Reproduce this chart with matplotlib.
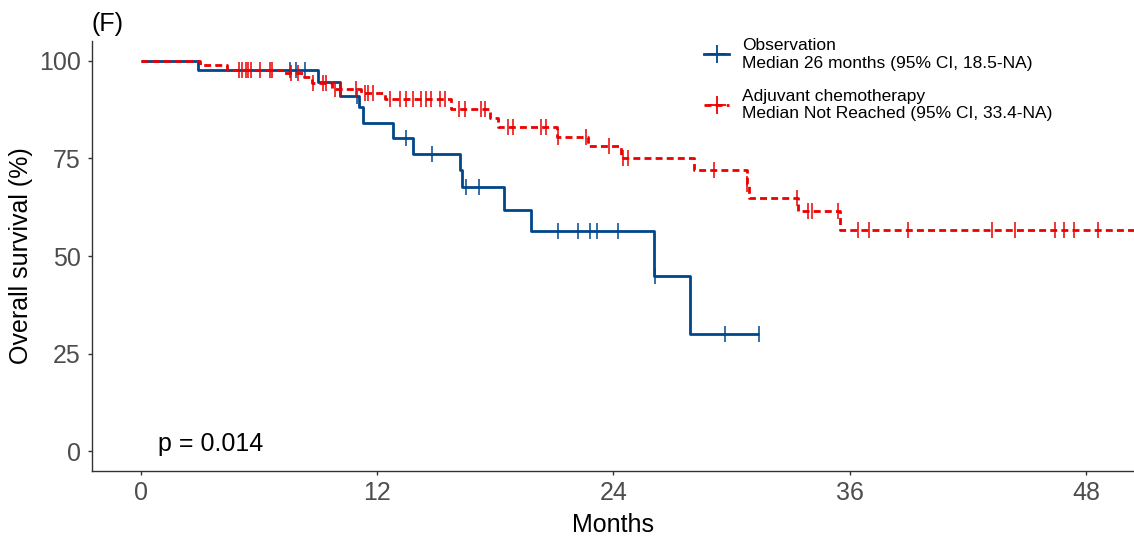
import numpy as np
import matplotlib
matplotlib.use('Agg')
import matplotlib.pyplot as plt
from matplotlib.lines import Line2D

plt.rcParams['font.family'] = ['Liberation Sans', 'DejaVu Sans']

# Kaplan-Meier steps (months, survival %)
obs_time = [0, 2.9, 9.0, 10.1, 11.1, 11.3, 12.8, 13.85, 16.2, 16.3, 18.46, 19.83, 26.05, 27.88, 31.37]
obs_surv = [100, 97.7, 94.5, 91.1, 88.3, 84.1, 80.2, 76.1, 72.1, 67.6, 61.9, 56.4, 45.0, 29.9, 29.9]
obs_cens = [7.57, 7.87, 8.33, 11.0, 13.46, 14.77, 16.5, 17.2, 21.2, 22.2, 22.84, 23.17, 24.24,
            26.1, 29.69, 31.37]

adj_time = [0, 3.0, 4.4, 7.2, 8.3, 8.7, 9.7, 11.2, 12.4, 15.78, 17.72, 18.15, 21.15, 22.7,
            24.4, 28.1, 30.8, 30.9, 33.37, 35.5, 50.6]
adj_surv = [100, 99.0, 97.7, 96.8, 95.9, 94.3, 92.8, 91.7, 90.2, 87.8, 85.3, 83.0, 80.6, 78.1,
            75.1, 72.1, 68.5, 64.9, 61.6, 56.8, 56.8]
adj_cens = [4.99, 5.16, 5.33, 5.45, 5.62, 6.04, 6.55, 6.69, 7.65, 7.99, 8.75, 9.26, 9.4, 9.85,
            10.1, 10.95, 11.37, 11.54, 11.8, 12.65, 13.15, 13.46, 13.83, 14.26, 14.5, 14.76,
            15.18, 15.43, 16.16, 16.45, 17.3, 17.47, 18.66, 18.91, 20.35, 20.6, 21.2, 22.6,
            23.8, 24.5, 24.75, 29.1, 30.8, 33.33, 33.9, 34.1, 35.4, 36.44, 36.98, 38.95, 43.2,
            44.4, 46.4, 46.9, 47.4, 48.6]

labels = ['Observation\nMedian 26 months (95% CI, 18.5-NA)',
          'Adjuvant chemotherapy\nMedian Not Reached (95% CI, 33.4-NA)']
colors = ['#00468B', '#ED0000']
styles = ['-', (0, (2.5, 1.5))]
p_text = 'p = 0.014'


def surv_at(times, surv, t):
    idx = np.searchsorted(times, t, side='right') - 1
    return np.asarray(surv)[idx]


fig = plt.figure(figsize=(11.34, 5.39), dpi=100)
ax = fig.add_axes([0.0814, 0.1267, 0.9186, 0.7965])

groups = [(obs_time, obs_surv, obs_cens), (adj_time, adj_surv, adj_cens)]
for i, (t, s, c) in enumerate(groups):
    ax.step(t, s, where='post', color=colors[i], linewidth=2.0, linestyle=styles[i],
            zorder=3 + i, solid_capstyle='butt', dash_capstyle='butt')
    ax.plot(c, surv_at(t, s, c), linestyle='none', marker='|', markersize=11.5,
            markeredgewidth=1.1, color=colors[i], zorder=3 + i)

ax.set_xlim(-2.45, 50.43)
ax.set_ylim(-5, 105)
ax.set_xticks([0, 12, 24, 36, 48])
ax.set_yticks([0, 25, 50, 75, 100])
for side in ['top', 'right']:
    ax.spines[side].set_visible(False)
for side in ['left', 'bottom']:
    ax.spines[side].set_linewidth(1.0)
    ax.spines[side].set_color('#333333')
ax.tick_params(axis='both', labelsize=18, labelcolor='#4D4D4D', color='#333333',
               length=3.2, width=1.0)
ax.tick_params(axis='x', pad=4)
ax.tick_params(axis='y', pad=5)

ax.set_xlabel('Months', fontsize=18, labelpad=6)
ax.set_ylabel('Overall survival (%)', fontsize=18, labelpad=4)

ax.text(0.86, 0, p_text, fontsize=18, ha='left', va='baseline')
fig.text(0.081, 0.955, '(F)', fontsize=18, ha='left', va='center')

handles = [Line2D([], [], color=colors[i], linewidth=2.0, linestyle=styles[i],
                  marker='+', markersize=13, markeredgewidth=1.3) for i in range(2)]
fig.legend(handles, labels, loc='upper left', bbox_to_anchor=(0.621, 0.929),
           frameon=False, fontsize=12.5, handlelength=1.44, handletextpad=0.73,
           labelspacing=1.05, borderpad=0, borderaxespad=0)

fig.savefig('out.png', dpi=100)
